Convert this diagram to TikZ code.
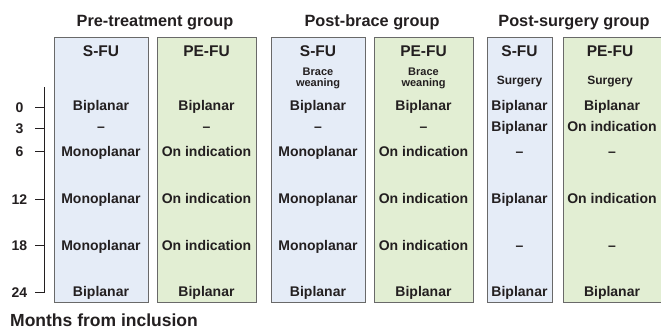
\documentclass[tikz,border=0pt]{standalone}
\usepackage{fontspec}
\setmainfont{Liberation Sans}
\definecolor{sfublue}{RGB}{229,236,247}
\definecolor{pegreen}{RGB}{226,238,211}
\definecolor{rulegray}{RGB}{105,105,105}
\definecolor{ink}{RGB}{35,31,32}
\tikzset{
  fupanel/.style={draw=rulegray, line width=0.8pt, anchor=north west,
    inner sep=0pt, outer sep=0pt, minimum height=265pt},
  sfupanel/.style={fupanel, fill=sfublue},
  pepanel/.style={fupanel, fill=pegreen},
  txt/.style={text=ink, inner sep=0pt, anchor=base},
  grouptitle/.style={txt, font=\bfseries\fontsize{16.3}{18}\selectfont},
  colhead/.style={txt, font=\bfseries\fontsize{15.5}{17}\selectfont},
  cell/.style={txt, font=\bfseries\fontsize{14}{16}\selectfont},
  event/.style={text=ink, inner sep=0pt, align=center,
    font=\bfseries\fontsize{11}{10.7}\selectfont},
  ticklabel/.style={cell},
  axisline/.style={draw=ink, line width=0.8pt},
}
\begin{document}
\begin{tikzpicture}[x=1pt,y=-1pt]
\clip (0,0) rectangle (661,332);
\fill[white] (0,0) rectangle (661,332);

% follow-up panels
\node[sfupanel, minimum width=94pt] (p1) at (54,37) {};
\node[pepanel,  minimum width=99pt] (p2) at (157,37) {};
\node[sfupanel, minimum width=94pt] (p3) at (271,37) {};
\node[pepanel,  minimum width=99pt] (p4) at (374,37) {};
\node[sfupanel, minimum width=65pt] (p5) at (487,37) {};
\node[pepanel,  minimum width=110pt] (p6) at (563,37) {};

% group titles
\node[grouptitle] (g1) at (155,26.5) {Pre-treatment group};
\node[grouptitle] (g2) at (372,26.5) {Post-brace group};
\node[grouptitle] (g3) at (574,26.5) {Post-surgery group};

% column headers
\node[colhead] (h1) at (101,56.5) {S-FU};
\node[colhead] (h2) at (206.5,56.5) {PE-FU};
\node[colhead] (h3) at (318,56.5) {S-FU};
\node[colhead] (h4) at (423.5,56.5) {PE-FU};
\node[colhead] (h5) at (519.5,56.5) {S-FU};
\node[colhead] (h6) at (610,56.5) {PE-FU};

% starting events
\node[event] (e3) at (318,78.7) {Brace\\weaning};
\node[event] (e4) at (423.5,78.7) {Brace\\weaning};
\node[event, anchor=base, font=\bfseries\fontsize{12}{12}\selectfont] (e5) at (519.5,84) {Surgery};
\node[event, anchor=base, font=\bfseries\fontsize{12}{12}\selectfont] (e6) at (610,84) {Surgery};

% imaging schedule per column
\foreach \t/\y [count=\r] in {Biplanar/110, –/131.5, Monoplanar/156,
    Monoplanar/203.5, Monoplanar/250, Biplanar/296.5}
  \node[cell] (c1r\r) at (101,\y) {\t};
\foreach \t/\y [count=\r] in {Biplanar/110, –/131.5, On indication/156,
    On indication/203.5, On indication/250, Biplanar/296.5}
  \node[cell] (c2r\r) at (206.5,\y) {\t};
\foreach \t/\y [count=\r] in {Biplanar/110, –/131.5, Monoplanar/156,
    Monoplanar/203.5, Monoplanar/250, Biplanar/296.5}
  \node[cell] (c3r\r) at (318,\y) {\t};
\foreach \t/\y [count=\r] in {Biplanar/110, –/131.5, On indication/156,
    On indication/203.5, On indication/250, Biplanar/296.5}
  \node[cell] (c4r\r) at (423.5,\y) {\t};
\foreach \t/\y [count=\r] in {Biplanar/110, Biplanar/131.5, –/156,
    Biplanar/203.5, –/250, Biplanar/296.5}
  \node[cell] (c5r\r) at (519.5,\y) {\t};
\foreach \t/\y [count=\r] in {Biplanar/110, On indication/131.5, –/156,
    On indication/203.5, –/250, Biplanar/296.5}
  \node[cell] (c6r\r) at (612,\y) {\t};

% time axis
\coordinate (axtop) at (44,87);
\coordinate (axbot) at (44,292);
\draw[axisline] (axtop) -- (axbot) -- ++(-9,0);
\foreach \m/\y in {0/107, 3/128, 6/151, 12/199, 18/245.5}{
  \coordinate (tk\m) at (44,\y);
  \draw[axisline] (tk\m) -- ++(-9,0);
}
\foreach \m/\y in {0/107, 3/128, 6/151, 12/199, 18/245.5, 24/292}
  \node[ticklabel] (t\m) at (19.5,\y+5) {\m};

\node[txt, anchor=base west, font=\bfseries\fontsize{17.5}{19}\selectfont]
  (xlabel) at (10,326.5) {Months from inclusion};
\end{tikzpicture}
\end{document}
